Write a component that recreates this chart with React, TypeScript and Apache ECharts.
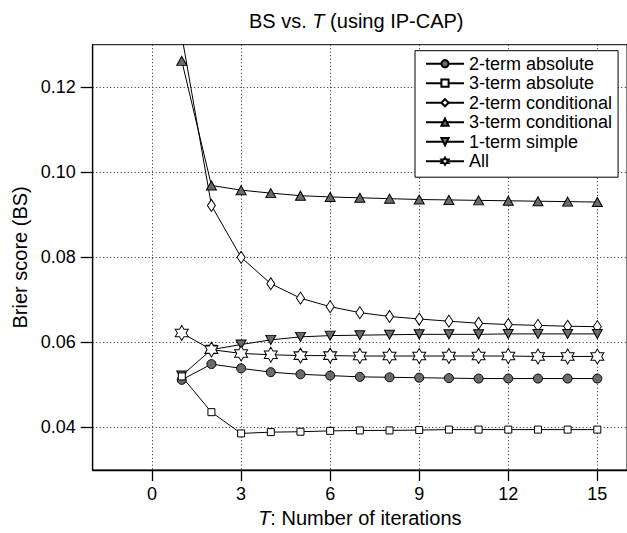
import React, { useEffect, useRef } from "react";
import * as echarts from "echarts";

const iterations = [1, 2, 3, 4, 5, 6, 7, 8, 9, 10, 11, 12, 13, 14, 15];
const twoTermAbsolute = [0.0512, 0.0549, 0.0539, 0.053, 0.0525, 0.0522, 0.0519, 0.0518, 0.0517, 0.0516, 0.0515, 0.0515, 0.0515, 0.0515, 0.0515];
const threeTermAbsolute = [0.052, 0.0436, 0.0386, 0.0389, 0.039, 0.0392, 0.0393, 0.0393, 0.0394, 0.0395, 0.0395, 0.0395, 0.0395, 0.0395, 0.0395];
const twoTermConditional = [0.1322, 0.0922, 0.08, 0.0738, 0.0704, 0.0684, 0.067, 0.0661, 0.0655, 0.065, 0.0645, 0.0642, 0.064, 0.0638, 0.0637];
const threeTermConditional = [0.1262, 0.0969, 0.0958, 0.0951, 0.0945, 0.0942, 0.094, 0.0938, 0.0936, 0.0935, 0.0934, 0.0933, 0.0932, 0.0931, 0.093];
const oneTermSimple = [0.0522, 0.0583, 0.0595, 0.0606, 0.0613, 0.0616, 0.0617, 0.0618, 0.0619, 0.0619, 0.0619, 0.062, 0.062, 0.062, 0.062];
const allCombined = [0.0622, 0.0583, 0.0574, 0.0571, 0.0569, 0.0569, 0.0568, 0.0568, 0.0568, 0.0568, 0.0568, 0.0568, 0.0567, 0.0567, 0.0567];

const xTicks = [0, 3, 6, 9, 12, 15];
const yTicks = [0.04, 0.06, 0.08, 0.1, 0.12];

const FONT = "'Liberation Sans', Arial, Helvetica, sans-serif";
const GRAY = "#6a6a6a";
const STAR =
  "path://M0,-100 L28.87,-50 L86.6,-50 L57.7,0 L86.6,50 L28.87,50 L0,100 L-28.87,50 L-86.6,50 L-57.7,0 L-86.6,-50 L-28.87,-50 Z";
const DOWN_TRI = "path://M0,0 L100,0 L50,90 Z";

function pairs(vals: number[]) {
  return iterations.map((x, i) => [x, vals[i]]);
}

export default function App() {
  const ref = useRef<HTMLDivElement>(null);
  useEffect(() => {
    if (!ref.current) return;
    const chart = echarts.init(ref.current, undefined, { renderer: "svg" });
    const mk = (name: string, vals: number[], symbol: string, size: any, fill: string) => ({
      name,
      type: "line",
      data: pairs(vals),
      symbol,
      symbolSize: size,
      showAllSymbol: true,
      lineStyle: { color: "#000", width: 1 },
      itemStyle: { color: fill, borderColor: "#000", borderWidth: 1 },
      emphasis: { disabled: true },
      clip: true,
    });
    const rich = {
      n: { fontSize: 20, color: "#000", fontFamily: FONT, fontWeight: "normal" },
      i: { fontSize: 20, color: "#000", fontStyle: "italic", fontFamily: FONT, fontWeight: "normal" },
    };
    chart.setOption({
      animation: false,
      textStyle: { fontFamily: FONT },
      title: {
        text: "{n|BS vs. }{i|T}{n| (using IP-CAP)}",
        left: 249,
        top: 11,
        padding: 0,
        textStyle: { fontWeight: "normal", rich },
      },
      grid: {
        left: 92.7,
        top: 44.7,
        right: -5.2,
        bottom: 62.3,
        show: true,
        borderColor: "#000",
        borderWidth: 1,
      },
      legend: {
        orient: "vertical",
        left: 415,
        top: 50.7,
        padding: [4, 6, 7, 10],
        itemGap: 1.5,
        itemWidth: 38,
        itemHeight: 9,
        itemTextGap: 6,
        backgroundColor: "#fff",
        borderColor: "#000",
        borderWidth: 1,
        borderRadius: 0,
        textStyle: { fontSize: 18, color: "#000", fontFamily: FONT, lineHeight: 18 },
        data: ["2-term absolute", "3-term absolute", "2-term conditional", "3-term conditional", "1-term simple", "All"],
      },
      xAxis: {
        type: "value",
        min: -2,
        max: 16,
        name: "{i|T}{n|: Number of iterations}",
        nameLocation: "middle",
        nameGap: 38,
        nameTextStyle: { rich },
        axisLine: { show: true, onZero: false, lineStyle: { color: "#000", width: 1.3 } },
        axisTick: { show: true, length: 11, customValues: xTicks, lineStyle: { color: "#000", width: 1.3 } },
        axisLabel: { customValues: xTicks, margin: 15, fontSize: 18, color: "#000", fontFamily: FONT },
        splitLine: { show: true, lineStyle: { color: "#222", type: [1, 2.5], width: 1 } },
      },
      yAxis: {
        type: "value",
        min: 0.03,
        max: 0.13,
        name: "Brier score (BS)",
        nameLocation: "middle",
        nameGap: 62,
        nameTextStyle: { fontSize: 20, color: "#000", fontFamily: FONT },
        axisLine: { show: true, onZero: false, lineStyle: { color: "#000", width: 1.3 } },
        axisTick: { show: true, length: 12, customValues: yTicks, lineStyle: { color: "#000", width: 1.3 } },
        axisLabel: {
          customValues: yTicks,
          margin: 17,
          fontSize: 18,
          color: "#000",
          fontFamily: FONT,
          formatter: (v: number) => v.toFixed(2),
        },
        splitLine: { show: true, lineStyle: { color: "#222", type: [1, 2.5], width: 1 } },
      },
      series: [
        mk("3-term conditional", threeTermConditional, "triangle", [10, 9], GRAY),
        mk("2-term conditional", twoTermConditional, "diamond", [8, 12], "#fff"),
        mk("1-term simple", oneTermSimple, DOWN_TRI, [10, 9], GRAY),
        mk("All", allCombined, STAR, [13, 15], "#fff"),
        mk("2-term absolute", twoTermAbsolute, "circle", 9, GRAY),
        mk("3-term absolute", threeTermAbsolute, "rect", 7, "#fff"),
      ],
    });
    return () => chart.dispose();
  }, []);
  return (
    <div
      ref={ref}
      style={{ position: "fixed", left: 0, top: 0, width: 627, height: 533, background: "#fff" }}
    />
  );
}
